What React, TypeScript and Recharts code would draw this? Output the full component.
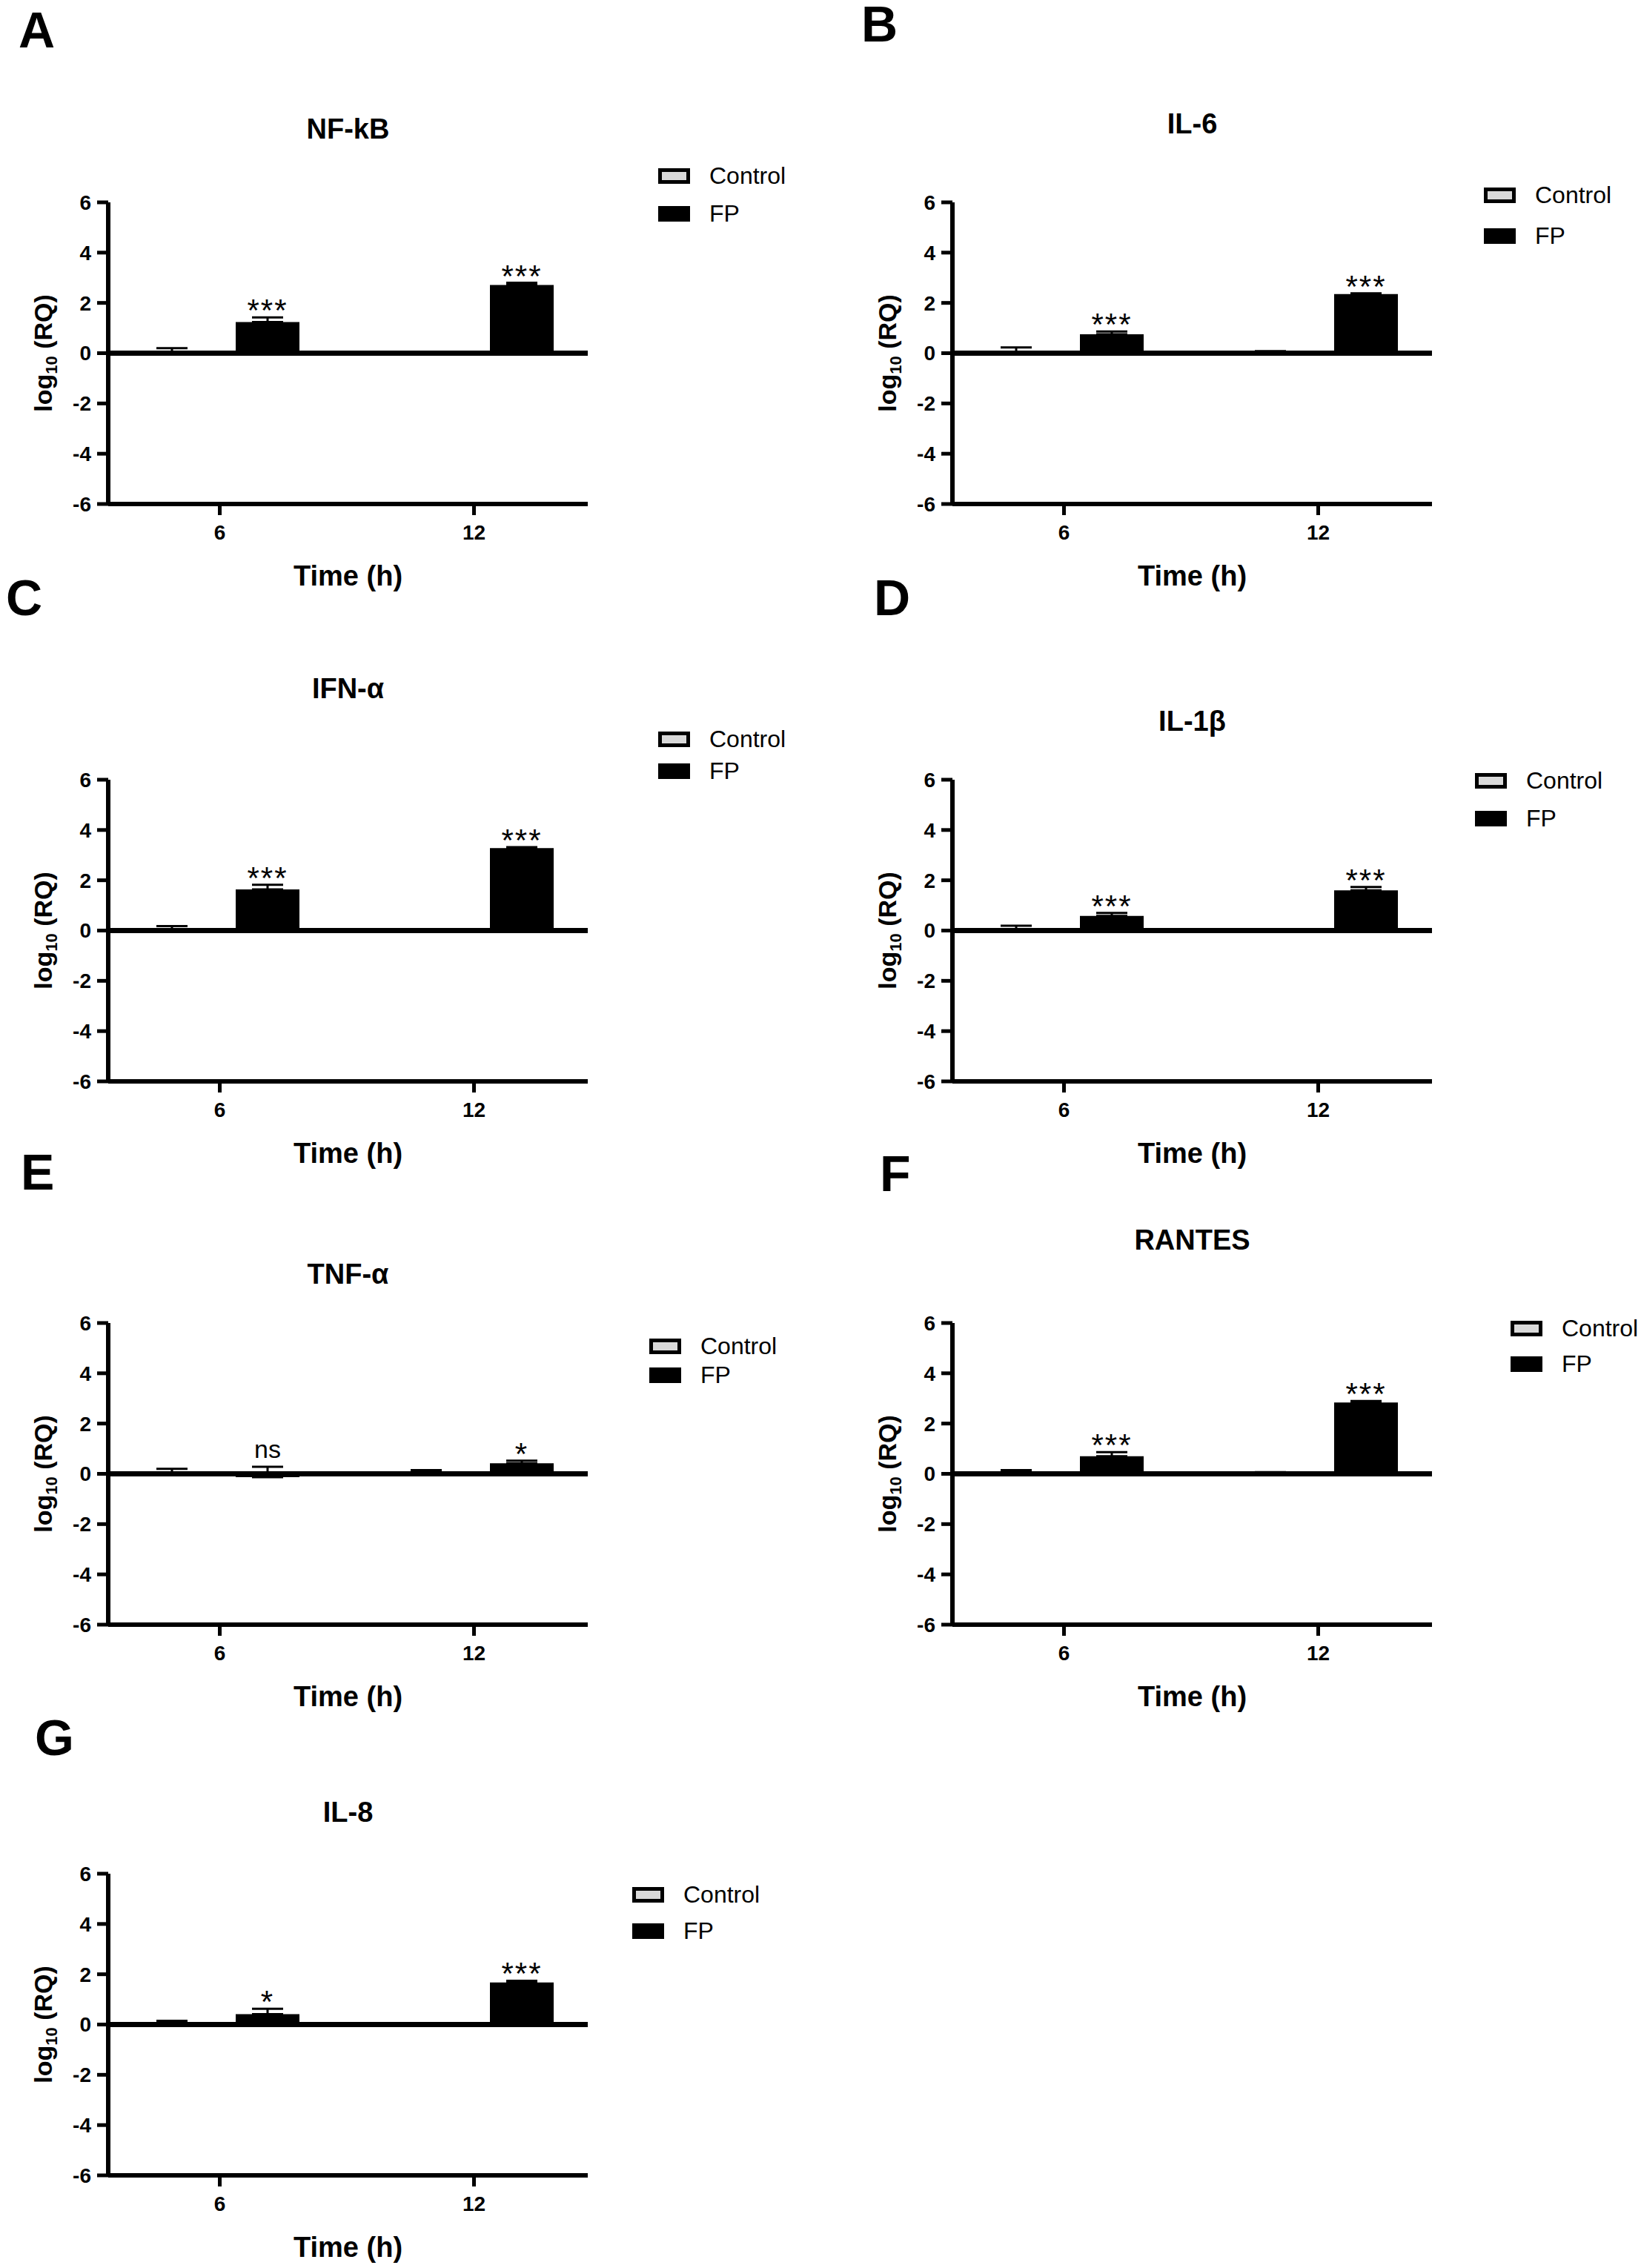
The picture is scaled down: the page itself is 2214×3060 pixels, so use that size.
import React from "react";
import { Bar, BarChart, ErrorBar, LabelList, Legend, ReferenceLine, XAxis, YAxis } from "recharts";

const FONT = '"Liberation Sans", Arial, Helvetica, sans-serif';

const TIMES = ["6", "12"];
const GENES = ["NF-kB", "IL-6", "IFN-α", "IL-1β", "TNF-α", "RANTES", "IL-8"];
const LETTERS = ["A", "B", "C", "D", "E", "F", "G"];
const Y_TICKS = [-6, -4, -2, 0, 2, 4, 6];

// log10(RQ), one entry per gene in GENES order
const CTRL_6H = [0, 0, 0, 0, 0, 0, 0];
const CTRL_12H = [0, 0, 0, 0, 0, 0, 0];
const CTRL_6H_ERR = [0.2, 0.23, 0.18, 0.19, 0.2, 0.15, 0.15];
const CTRL_12H_ERR = [0.02, 0.08, 0.02, 0.02, 0.15, 0.07, 0.02];
const FP_6H = [1.24, 0.75, 1.64, 0.58, -0.13, 0.7, 0.41];
const FP_12H = [2.71, 2.35, 3.28, 1.6, 0.42, 2.84, 1.67];
const FP_6H_ERR = [0.18, 0.11, 0.18, 0.12, 0.41, 0.16, 0.22];
const FP_12H_ERR = [0.09, 0.03, 0.04, 0.13, 0.1, 0.06, 0.07];
const SIG_6H = ["***", "***", "***", "***", "ns", "***", "*"];
const SIG_12H = ["***", "***", "***", "***", "*", "***", "***"];

// chart box is placed so the plot always starts at (146, PLOT_TOP) inside it
const W = 1075;
const H = 840;
const PLOT_TOP = 303;
const PLOT_H = 407;
const PLOT_CX = 146 + 647 / 2;

const PANELS = [
  { left: 0, top: -30, titleDy: -100, letter: [25, 94], legend: [888, 250, 51] },
  { left: 1139, top: -30, titleDy: -107, letter: [23, 86], legend: [863, 276, 55] },
  { left: 0, top: 749, titleDy: -124, letter: [8, 81], legend: [888, 231, 43] },
  { left: 1139, top: 749, titleDy: -80, letter: [40, 81], legend: [851, 287, 51] },
  { left: 0, top: 1482, titleDy: -67, letter: [28, 123], legend: [876, 317, 39] },
  { left: 1139, top: 1482, titleDy: -113, letter: [48, 125], legend: [899, 293, 48] },
  { left: 0, top: 2225, titleDy: -84, letter: [47, 143], legend: [853, 314, 49] },
];

function rows(i: number) {
  const ctrl = [CTRL_6H, CTRL_12H];
  const ctrlErr = [CTRL_6H_ERR, CTRL_12H_ERR];
  const fp = [FP_6H, FP_12H];
  const fpErr = [FP_6H_ERR, FP_12H_ERR];
  const sig = [SIG_6H, SIG_12H];
  return TIMES.map((time, j) => ({
    time,
    control: ctrl[j][i],
    controlErr: [0, ctrlErr[j][i]],
    fp: fp[j][i],
    fpErr: [0, fpErr[j][i]],
    sig: sig[j][i],
  }));
}

// puts the star / ns label just above the top of the FP error bar
function SigLabel(props: any) {
  const { data } = props;
  const box = props.viewBox ?? props;
  const x = box.x ?? props.x;
  const y = box.y ?? props.y;
  const w = box.width ?? props.width;
  const h = box.height ?? props.height;
  const row = data[props.index];
  if (!row || !row.sig) return null;
  const v = row.fp;
  const err = row.fpErr[1];
  const lo = Math.min(y, y + h);
  const hi = Math.max(y, y + h);
  const zero = v >= 0 ? hi : lo;
  const valPx = v >= 0 ? lo : hi;
  const perUnit = (zero - valPx) / v;
  const top = zero - (v + err) * perUnit;
  const ns = row.sig === "ns";
  return (
    <text
      x={x + w / 2}
      y={ns ? top - 12 : top + 5}
      textAnchor="middle"
      fontSize={ns ? 34 : 42}
      letterSpacing={ns ? 0 : 2}
      fontFamily={FONT}
      fill="#000"
    >
      {row.sig}
    </text>
  );
}

function LegendBox({ payload, gap }: any) {
  const items = (payload || []).filter((e: any) => e.type !== "none");
  return (
    <div style={{ display: "flex", flexDirection: "column", rowGap: gap - 34 }}>
      {items.map((e: any) => (
        <div key={e.value} style={{ display: "flex", alignItems: "center", height: 34 }}>
          <span
            style={{
              display: "inline-block",
              width: 43,
              height: 21,
              boxSizing: "border-box",
              border: "5px solid #000",
              background: e.value === "Control" ? "#d9d9d9" : "#000",
            }}
          />
          <span
            style={{
              marginLeft: 26,
              fontSize: 32,
              lineHeight: "34px",
              fontFamily: FONT,
              color: "#000",
              whiteSpace: "nowrap",
            }}
          >
            {e.value}
          </span>
        </div>
      ))}
    </div>
  );
}

const tickStyle = { fill: "#000", fontSize: 28, fontWeight: 700, fontFamily: FONT };
const axisLine = { stroke: "#000", strokeWidth: 6 };
const tickLine = { stroke: "#000", strokeWidth: 5 };

function Panel({ i }: { i: number }) {
  const p = PANELS[i];
  const [lx, ly, lgap] = p.legend;
  const data = rows(i);
  const midY = PLOT_TOP + PLOT_H / 2;
  return (
    <div style={{ position: "absolute", left: p.left, top: p.top }}>
      <BarChart
        width={W}
        height={H}
        data={data}
        margin={{ top: PLOT_TOP, left: 66, right: W - 146 - 647, bottom: H - PLOT_TOP - PLOT_H - 60 }}
        barSize={86}
        barGap={43}
      >
        <XAxis
          dataKey="time"
          type="category"
          interval={0}
          height={60}
          padding={{ left: -21, right: -18 }}
          axisLine={axisLine}
          tickLine={tickLine}
          tickSize={15}
          tickMargin={13}
          tick={tickStyle}
        />
        <YAxis
          type="number"
          domain={[-6, 6]}
          ticks={Y_TICKS}
          interval={0}
          width={80}
          allowDataOverflow
          axisLine={axisLine}
          tickLine={tickLine}
          tickSize={15}
          tickMargin={8}
          tick={tickStyle}
        />
        <Legend
          layout="vertical"
          align="center"
          verticalAlign="middle"
          wrapperStyle={{ left: lx, top: ly, width: "auto" }}
          content={(props: any) => <LegendBox payload={props.payload} gap={lgap} />}
        />
        <Bar
          dataKey="control"
          name="Control"
          fill="#d9d9d9"
          stroke="#000"
          strokeWidth={2}
          minPointSize={1}
          isAnimationActive={false}
        >
          <ErrorBar dataKey="controlErr" direction="y" width={21} stroke="#000" strokeWidth={3} />
        </Bar>
        <Bar dataKey="fp" name="FP" fill="#000" isAnimationActive={false}>
          <ErrorBar dataKey="fpErr" direction="y" width={21} stroke="#000" strokeWidth={3} />
          <LabelList dataKey="sig" content={(props: any) => <SigLabel {...props} data={data} />} />
        </Bar>
        <ReferenceLine y={0} stroke="#000" strokeWidth={7} />
        <text x={p.letter[0]} y={p.letter[1]} fontSize={68} fontWeight={700} fontFamily={FONT} fill="#000">
          {LETTERS[i]}
        </text>
        <text x={PLOT_CX} y={PLOT_TOP + p.titleDy + 14} textAnchor="middle" fontSize={38} fontWeight={700} fontFamily={FONT} fill="#000">
          {GENES[i]}
        </text>
        <text x={PLOT_CX} y={PLOT_TOP + PLOT_H + 110} textAnchor="middle" fontSize={38} fontWeight={700} fontFamily={FONT} fill="#000">
          Time (h)
        </text>
        <text
          x={70}
          y={midY}
          transform={`rotate(-90 70 ${midY})`}
          textAnchor="middle"
          fontSize={34}
          fontWeight={700}
          fontFamily={FONT}
          fill="#000"
        >
          log<tspan fontSize={22} dy={7}>10</tspan>
          <tspan dy={-7}>{"\u00a0(RQ)"}</tspan>
        </text>
      </BarChart>
    </div>
  );
}

export default function App() {
  return (
    <div
      style={{
        position: "absolute",
        left: 0,
        top: 0,
        width: 2214,
        height: 3060,
        overflow: "hidden",
        background: "#fff",
      }}
    >
      {GENES.map((g, i) => (
        <Panel key={g} i={i} />
      ))}
    </div>
  );
}
